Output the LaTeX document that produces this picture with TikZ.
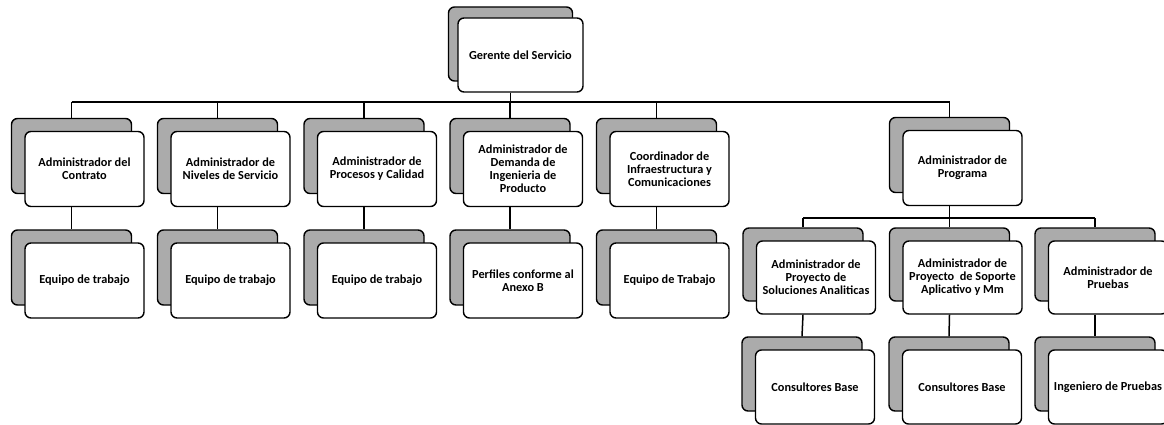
\documentclass[tikz,border=0pt]{standalone}
\usepackage{fontspec}
\setmainfont{Carlito}
\begin{document}
\begin{tikzpicture}[x=1pt,y=-1pt,
  line width=1.4pt,
  backbox/.style={draw=black,fill=black!33,rounded corners=6pt,minimum width=120pt,minimum height=75pt,inner sep=0pt},
  frontbox/.style={draw=black,fill=white,rounded corners=6pt,minimum width=119pt,minimum height=75pt,inner sep=0pt,
    align=center,font=\bfseries\fontsize{12.3}{13}\selectfont},
  conn/.style={draw=black,line width=1.5pt}]
\useasboundingbox (0,0) rectangle (1164,425);
\newcommand\orgpair[5][]{%
  \node[backbox,#1] (b#2) at ({#3-13},{#4-13}) {};
  \node[frontbox,#1] (#2) at (#3,#4) {#5};}
% top
\node[backbox,minimum width=124pt,minimum height=74pt] (bg) at (510.5,44) {};
\node[frontbox,minimum width=125pt,minimum height=74pt] (g) at (520.5,55) {Gerente del Servicio};
% level 1
\orgpair{a1}{84.5}{169}{Administrador del\\Contrato}
\orgpair{a2}{230.5}{169}{Administrador de\\Niveles de Servicio}
\orgpair{a3}{377}{169}{Administrador de\\Procesos y Calidad}
\orgpair{a4}{523}{169}{Administrador de\\Demanda de\\Ingenieria de\\Producto}
\orgpair{a5}{669.5}{169}{Coordinador de\\Infraestructura y\\Comunicaciones}
\orgpair[minimum height=75pt]{a6}{962.5}{168}{Administrador de\\Programa}
% level 2 left
\orgpair{e1}{84.5}{280.5}{Equipo de trabajo}
\orgpair{e2}{230.5}{280.5}{Equipo de trabajo}
\orgpair{e3}{377}{280.5}{Equipo de trabajo}
\orgpair{e4}{523}{280.5}{Perfiles conforme al\\Anexo B}
\orgpair{e5}{669.5}{280.5}{Equipo de Trabajo}
% level 2 right
\orgpair[minimum height=73pt]{p1}{816}{277.5}{Administrador de\\Proyecto de\\Soluciones Analiticas}
\orgpair[minimum height=73pt]{p2}{962.5}{277.5}{Administrador de\\Proyecto~ de Soporte\\Aplicativo y Mm}
\orgpair[minimum height=73pt]{p3}{1108}{277.5}{Administrador de\\Pruebas}
% level 3
\orgpair[minimum height=74pt]{c1}{815}{387}{Consultores Base}
\orgpair[minimum height=74pt]{c2}{962}{387}{Consultores Base}
\orgpair[minimum height=74pt]{c3}{1108}{387}{Ingeniero de Pruebas}
% bus lines
\coordinate (bus1) at (0,102);
\coordinate (bus2) at (0,218);
\draw[conn] (g.south -| bg.center) -- (bus1 -| bg.center);
\draw[conn] (bus1 -| ba1.center) -- (bus1 -| ba6.center);
\foreach \n in {a1,a2,a3,a4,a5,a6}{\draw[conn] (bus1 -| b\n.center) -- (b\n.north);}
\foreach \n in {1,2,3,4,5}{\draw[conn] (a\n.south -| ba\n.center) -- (be\n.north);}
\draw[conn] (a6.south -| ba6.center) -- (bus2 -| ba6.center);
\draw[conn] (bus2 -| bp1.center) -- (bus2 -| bp3.center);
\foreach \n in {p1,p2,p3}{\draw[conn] (bus2 -| b\n.center) -- (b\n.north);}
\foreach \n in {1,2,3}{\draw[conn] (p\n.south -| bp\n.center) -- (bc\n.north);}
\end{tikzpicture}
\end{document}
